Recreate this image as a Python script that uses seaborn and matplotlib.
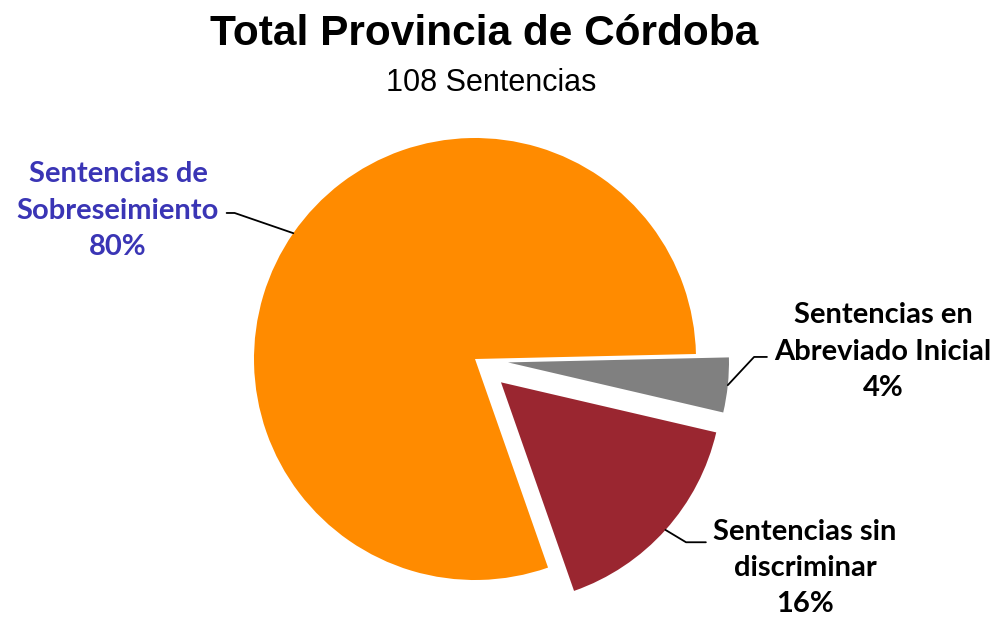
import numpy as np
import matplotlib
matplotlib.use('Agg')
import matplotlib.pyplot as plt
import seaborn as sns

# data
categories = ['Sentencias de\nSobreseimiento', 'Sentencias sin\ndiscriminar', 'Sentencias en\nAbreviado Inicial']
percentages = [80, 16, 4]
colors = ['#FF8B00', '#9A2630', '#808080']
title = 'Total Provincia de Córdoba'
subtitle = '108 Sentencias'

sns.set_theme(style='white')
plt.rcParams['font.family'] = ['Liberation Sans', 'DejaVu Sans']
plt.rcParams['text.color'] = 'black'

W, H = 998, 620
R = 221.0            # pie radius in px
CX, CY = 475, 359    # pie centre in px (from top)

fig = plt.figure(figsize=(W / 100, H / 100), dpi=100)
ax = fig.add_axes([0, 0, 1, 1])

wedges, _ = ax.pie(percentages, colors=colors, startangle=1.3, counterclock=True,
                   explode=[0, 0.158, 0.15], radius=1.0,
                   wedgeprops=dict(linewidth=0))

ax.set_xlim((0 - CX) / R, (W - CX) / R)
ax.set_ylim((CY - H) / R, CY / R)
ax.set_aspect('auto')
ax.axis('off')


def px(x, y):
    return (x - CX) / R, (CY - y) / R


def edge_point(w):
    mid = np.deg2rad((w.theta1 + w.theta2) / 2)
    cx, cy = w.center
    return cx + w.r * np.cos(mid), cy + w.r * np.sin(mid)


label_font = dict(family=['Lato', 'DejaVu Sans'], fontsize=21, fontweight='bold',
                  ha='center', va='center', linespacing=1.5)

# label settings: text centre (px), relpos, angle of connector at the wedge
label_cfg = [
    (px(118, 211), (1.0, 0.48), -19, '#3A35B5'),
    (px(805, 568), (0.0, 0.76), -31, '#000000'),
    (px(883, 352), (0.0, 0.45), 47, '#000000'),
]

for w, cat, pct, (pos, rel, angB, col) in zip(wedges, categories, percentages, label_cfg):
    ax.annotate(f'{cat}\n{pct}%', xy=edge_point(w), xytext=pos, color=col,
                arrowprops=dict(arrowstyle='-', color='black', lw=1.3, relpos=rel,
                                shrinkA=3, shrinkB=0,
                                connectionstyle=f'angle,angleA=0,angleB={angB},rad=0'),
                **label_font)

fig.text(484 / W, 1 - 34 / H, title, ha='center', va='center', fontsize=30.5, fontweight='bold')
fig.text(491 / W, 1 - 83 / H, subtitle, ha='center', va='center', fontsize=22)

fig.savefig('out.png', dpi=100)
